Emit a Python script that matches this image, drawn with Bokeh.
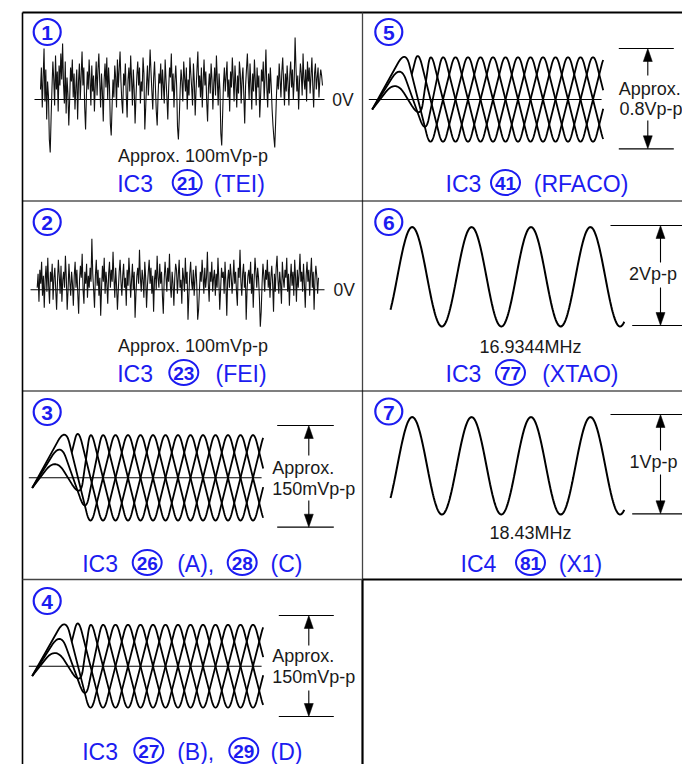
import numpy as np
from bokeh.plotting import figure
from bokeh.models import Range1d
from bokeh.embed import file_html
from bokeh.resources import INLINE
from bokeh.core.properties import value

# ---------------- data ----------------
# noise waveforms (mV above 0V, sampled evenly), estimated from the picture
noise_tei = [10, 32, -8, 22, 51, -2, 30, -20, 18, 4, -40, -53, -18, 12, 38, 20, -6, 44, 10, 28,
             -12, 34, 14, 46, 20, 56, 16, -4, 38, -14, 22, 6, -26, 0, 32, 18, 40, 2, 26, -10,
             12, 30, -20, 18, 36, 0, 24, 48, 14, 32, -8, -30, 6, 28, 10, 40, 20, -6, 34, 8,
             24, -12, 16, 38, 4, 30, 46, 18, -8, 26, 8, -22, 20, 36, 12, 42, 0, 32, 14, -24,
             -36, -6, 20, 2, 34, 22, -8, 40, 12, 30, 48, 18, -2, -14, 26, 14, 36, 4, -18, 20,
             32, 8, 44, 20, -6, 30, 10, -24, 2, 24, 38, 14, 32, -4, 18, 8, 42, 26, -30, -8,
             16, 34, 4, 24, 50, 28, 8, -10, 22, 38, 12, -12, -26, 4, 26, 16, 36, 0, 30, 14,
             -4, 40, 20, 2, -20, 12, 32, 22, 46, 8, 26, -8, 18, 34, 14, -28, -40, -18, 10, 30,
             18, -2, 38, 22, 8, 32, -10, 20, 4, 42, 26, 12, -6, 36, 18, -16, 10, 30, 48, 12,
             24, 2, 32, -8, 18, 40, 14, 28, -2, -22, 12, 26, 6, 36, 20, -10, 16, 32, 4, 44,
             20, -6, 26, 10, -34, -46, -16, 16, 32, 8, 24, 38, 2, 20, -12, 28, 12, 42, 22, -2,
             34, 16, -8, 24, 6, 38, 26, -4, 20, 32, 4, -24, 14, 30, 46, 22, 0, 36, 16, -10,
             26, 8, 40, 18, -6, 32, 12, 24, -18, 4, 30, 18, 38, 0, 22, 50, 12, -8, 26, 6,
             32, 14, -10, -26, -38, -48, -22, 6, 24, 10, 36, 20, 2, 28, 42, 18, -6, 26, 8, 34,
             16, -6, 24, 38, 12, 30, 0, 20, 62, 32, 8, 24, -10, 18, 36, 26, 4, 46, 20, 10,
             30, -2, 38, 18, 32, 6, 24, 42, 14, -8, 26, 36, 10, 22, 32, 2, 20, 30, 24, 14]
noise_fei = [2, 16, -12, 20, 6, 28, -6, 14, -18, 10, 24, -2, 32, 4, -14, 18, 8, 26, -10, 12,
             22, 0, -20, 8, 30, 14, -4, 24, -12, 10, 18, 2, 34, 12, -20, 0, 26, 8, -6, 18,
             6, -16, 14, 28, 2, 20, -4, -24, 10, 24, 12, 36, 0, -14, 18, 6, 26, -8, 14, 2,
             22, 8, 51, 16, 0, -18, 14, 30, 4, 20, -6, 12, -26, 2, 24, 8, 32, -4, 18, 6,
             -14, 16, 28, 2, 20, 8, 38, 12, -8, 22, 4, -20, 0, 18, 30, 8, -6, 14, 26, 2,
             12, -16, 20, 4, 32, 14, -8, 10, 26, 0, 18, -28, -4, 14, 22, 6, 40, 12, -2, 20,
             10, -8, 28, 12, -18, 4, 18, 30, 6, 22, -4, 14, -22, 10, 20, 0, 34, 12, 2, 26,
             6, 18, -6, -24, 10, 28, 14, -2, 22, 8, 36, 4, -8, 18, 6, -16, 12, 26, 20, -4,
             14, 30, 2, 10, -14, 22, 12, -2, 32, 6, 18, -30, -6, 16, 28, 8, 0, 20, -6, 12,
             24, 4, -30, -20, 0, 18, 8, 30, 14, -4, 22, 2, 12, 38, 6, -12, 18, 8, 28, -2,
             12, 20, -6, 16, 2, 32, 10, -20, 0, 22, 12, 18, -4, 28, 6, -26, 10, 20, 2, 26,
             14, -4, 10, 30, 6, 18, -2, -16, 22, 12, 40, 8, -6, 16, 26, 2, 18, -30, 0, 14,
             20, 6, 28, -4, 16, -18, 10, 32, 18, 2, 22, 12, -8, -37, -22, 6, 26, 14, -2, 20,
             10, 30, 2, 18, -8, 12, 24, 6, -22, 16, -2, 22, 34, 10, -4, 18, 6, -14, 28, 12,
             2, 20, 12, 32, -2, 16, -16, 10, 26, 4, 18, -6, 30, 12, -12, 20, 2, 16, 36, 8,
             18, -2, 26, 6, -18, 14, 28, 8, 20, -6, 16, 32, 2, 18, -20, 10, 24, 14, -4, 12]

# eye pattern (levels as fraction of half swing, times in px-units from the trigger point)
eye_start_level = -0.2
eye_hump_levels = [1.0, 0.7, 0.4]
eye_hump_t = [33.3, 28.3, 23.3]
eye_corner_t = [58.3, 53.3, 48.3]
eye_first_full_peak_t = [83.3, 70.8, 58.3, 45.8]
eye_period = 50.0
eye_end_t = 231.0

# crystal waveforms
sine_cycles_start = -0.365
sine_cycles_end = 3.57

panel_labels = ["1", "2", "3", "4", "5", "6", "7"]
noise_text = "Approx. 100mVp-p"
freq_labels = ["16.9344MHz", "18.43MHz"]
vpp_labels = ["0.8Vp-p", "2Vp-p", "1Vp-p", "150mVp-p", "150mVp-p"]

BLUE = "#1c1cf0"
INK = "#1a1a1a"
FONT = "Liberation Sans"

p = figure(width=682, height=764, x_range=Range1d(0, 682), y_range=Range1d(764, 0),
           output_backend="svg", toolbar_location=None, min_border=0,
           x_axis_location=None, y_axis_location=None)
p.grid.visible = False
p.outline_line_color = None
p.background_fill_color = "white"
p.border_fill_color = "white"


def txt(x, y, s, size, color=INK, align="left", bold=False):
    p.text(x=[x], y=[y], text=[s], text_font=value(FONT), text_font_size=value(f"{size}px"),
           text_color=color, text_align=align, text_baseline="middle",
           text_font_style="bold" if bold else "normal")


# ---------------- frame ----------------
p.line([22, 682], [12, 12], line_color="black", line_width=2.2)
p.line([22, 22], [12, 764], line_color="black", line_width=1.6)
p.line([362, 362], [12, 579], line_color="#444", line_width=1.3)
p.line([362, 362], [579, 764], line_color="black", line_width=2.2)
for yy in (200.5, 390.5):
    p.line([22, 682], [yy, yy], line_color="black", line_width=1.1)
p.line([22, 362], [579, 579], line_color="#444", line_width=1.3)
p.line([362, 682], [579, 579], line_color="black", line_width=2.2)

# ---------------- circled panel numbers ----------------
num_pos = [(46.7, 31.5), (46.7, 221.5), (46.7, 411.5), (46.7, 600.5),
           (388.3, 31.5), (388.3, 221.5), (388.3, 411)]
for lab, (cx, cy) in zip(panel_labels, num_pos):
    p.ellipse(x=[cx], y=[cy], width=27, height=26, fill_color=None, line_color=BLUE, line_width=2.2)
    txt(cx, cy + 1, lab, 21, BLUE, "center", True)


def circ_num(cx, cy, s):
    p.ellipse(x=[cx], y=[cy], width=29, height=25, fill_color=None, line_color=BLUE, line_width=2)
    txt(cx, cy + 1, s, 19, BLUE, "center", True)


# ---------------- titles ----------------
titles = [
    [("t", 116.7, "IC3"), ("c", 186.7, "21"), ("t", 213.3, "(TEI)")],
    [("t", 116.7, "IC3"), ("c", 183.3, "23"), ("t", 215, "(FEI)")],
    [("t", 81.7, "IC3"), ("c", 146.7, "26"), ("t", 176.7, "(A),"), ("c", 241.7, "28"), ("t", 270, "(C)")],
    [("t", 81.7, "IC3"), ("c", 148.3, "27"), ("t", 176.7, "(B),"), ("c", 243.3, "29"), ("t", 270, "(D)")],
    [("t", 445, "IC3"), ("c", 505, "41"), ("t", 533.3, "(RFACO)")],
    [("t", 445, "IC3"), ("c", 510, "77"), ("t", 541.7, "(XTAO)")],
    [("t", 460, "IC4"), ("c", 530, "81"), ("t", 558.3, "(X1)")],
]
title_y = [182, 372, 562, 750, 182, 372, 562]
for parts, ty in zip(titles, title_y):
    for kind, x, s in parts:
        if kind == "t":
            txt(x, ty + 1, s, 23, BLUE)
        else:
            circ_num(x, ty, s)

# ---------------- noise panels ----------------
for vals, x0, x1, base, lx0, lx1, zx, ay in [
        (noise_tei, 40, 322, 99, 34, 324, 331.7, 155),
        (noise_fei, 36.7, 318, 289.3, 30, 324, 333, 345)]:
    v = np.asarray(vals, float)
    xs = np.linspace(x0, x1, len(v))
    p.line([lx0, lx1], [base, base], line_color="black", line_width=1.1)
    p.line(xs, base - v, line_color="#111", line_width=1.1)
    txt(zx, base, "0V", 17.5)
    txt(192.5, ay, noise_text, 18, align="center")


# ---------------- eye patterns ----------------
def fillet(xs, ys, c=16.0, n=14):
    ox, oy = [xs[0]], [ys[0]]
    t = np.linspace(0, 1, n)
    for i in range(1, len(xs) - 1):
        ax, ay = xs[i - 1], ys[i - 1]
        vx, vy = xs[i], ys[i]
        bx, by = xs[i + 1], ys[i + 1]
        la = np.hypot(ax - vx, ay - vy)
        lb = np.hypot(bx - vx, by - vy)
        ta = min(c / la, 0.45)
        tb = min(c / lb, 0.45)
        p0x, p0y = vx + (ax - vx) * ta, vy + (ay - vy) * ta
        p2x, p2y = vx + (bx - vx) * tb, vy + (by - vy) * tb
        ox.extend((1 - t) ** 2 * p0x + 2 * (1 - t) * t * vx + t ** 2 * p2x)
        oy.extend((1 - t) ** 2 * p0y + 2 * (1 - t) * t * vy + t ** 2 * p2y)
    ox.append(xs[-1])
    oy.append(ys[-1])
    return np.array(ox), np.array(oy)


def steady(ts, ls, first_peak):
    t = first_peak
    lev = 1.0
    while ts[-1] < eye_end_t + eye_period:
        ts.append(t)
        ls.append(lev)
        t += eye_period / 2
        lev = -lev
    return ts, ls


def eye_traces():
    out = []
    for k in range(3):
        ts = [0.0, eye_hump_t[k], eye_corner_t[k]]
        ls = [eye_start_level, eye_hump_levels[k], -eye_hump_levels[k]]
        out.append(steady(ts, ls, eye_first_full_peak_t[k]))
    # fourth trace branches off the outer hump's falling edge
    pk = eye_first_full_peak_t[3]
    h = eye_period / 4
    u = (pk - eye_hump_t[0]) / (2 * h)
    ts = [eye_hump_t[0] + u * h]
    ls = [1 - u]
    ts, ls = steady(ts, ls, pk)
    out.append((ts, ls))
    return out


def eye(sx, base, amp):
    ex = sx + eye_end_t
    curves = []
    for ts, ls in eye_traces():
        fx, fy = fillet(sx + np.array(ts), np.array(ls) * amp)
        curves.append((fx, fy))
    mx = max(np.max(np.abs(fy[fx > sx + 60])) for fx, fy in curves)
    for fx, fy in curves:
        fy = fy * amp / mx
        keep = fx <= ex
        k = np.argmin(keep) if not keep.all() else len(fx)
        X = list(fx[:k])
        Y = list(fy[:k])
        if k < len(fx):
            f = (ex - fx[k - 1]) / (fx[k] - fx[k - 1])
            X.append(ex)
            Y.append(fy[k - 1] + f * (fy[k] - fy[k - 1]))
        p.line(X, base - np.array(Y), line_color="black", line_width=1.8)
    p.line([sx - 3.4, ex - 1.6], [base, base], line_color="black", line_width=1.1)


eye(371.7, 99, 50)
eye(31.7, 477.3, 50.5)
eye(31.7, 665.7, 49.2)


# ---------------- dimension marks ----------------
def arrow(x, tip, dirn):
    p.patch([x - 4.5, x + 4.5, x], [tip + dirn * 13, tip + dirn * 13, tip], fill_color="black",
            line_color="black", line_width=0.5)


def dim(x0, x1, x0b, x1b, ytop, ybot, ax, gtop, gbot):
    p.line([x0, x1], [ytop, ytop], line_color="black", line_width=1.2)
    p.line([x0b, x1b], [ybot, ybot], line_color="black", line_width=1.2)
    p.line([ax, ax], [ytop + 8, gtop], line_color="black", line_width=1.1)
    p.line([ax, ax], [gbot, ybot - 8], line_color="black", line_width=1.1)
    arrow(ax, ytop, 1)
    arrow(ax, ybot, -1)


dim(618.3, 673.3, 618.3, 673.3, 48, 148.3, 647.3, 75, 120)
txt(618.3, 88.3, "Approx.", 18)
txt(619, 108.3, vpp_labels[0], 18)

dim(276.7, 333.3, 276.7, 333.3, 425, 526.7, 308.3, 455, 500)
txt(271.7, 467.3, "Approx.", 18)
txt(271.7, 488.3, vpp_labels[3], 18)

dim(278.3, 333.3, 278.3, 333.3, 615, 716, 308.3, 645, 690)
txt(271.7, 655, "Approx.", 18)
txt(271.7, 676.7, vpp_labels[4], 18)

dim(610, 682, 631.7, 682, 225, 325, 660, 262, 287)
txt(652.5, 273, vpp_labels[1], 18, align="center")
dim(610, 682, 631.7, 682, 414, 513.3, 660, 450, 474)
txt(653, 461.7, vpp_labels[2], 18, align="center")

# ---------------- crystal sine waves ----------------
for cy, amp, flab, fy in [(276.3, 49.7, freq_labels[0], 346.7), (465.3, 48.7, freq_labels[1], 532.7)]:
    cyc = np.linspace(sine_cycles_start, sine_cycles_end, 400)
    xs = 411.7 + cyc * 59.4
    ys = cy - amp * np.cos(2 * np.pi * cyc)
    p.line(xs, ys, line_color="black", line_width=2)
    txt(530, fy, flab, 18, align="center")

open("out.html", "w").write(file_html(p, INLINE))
